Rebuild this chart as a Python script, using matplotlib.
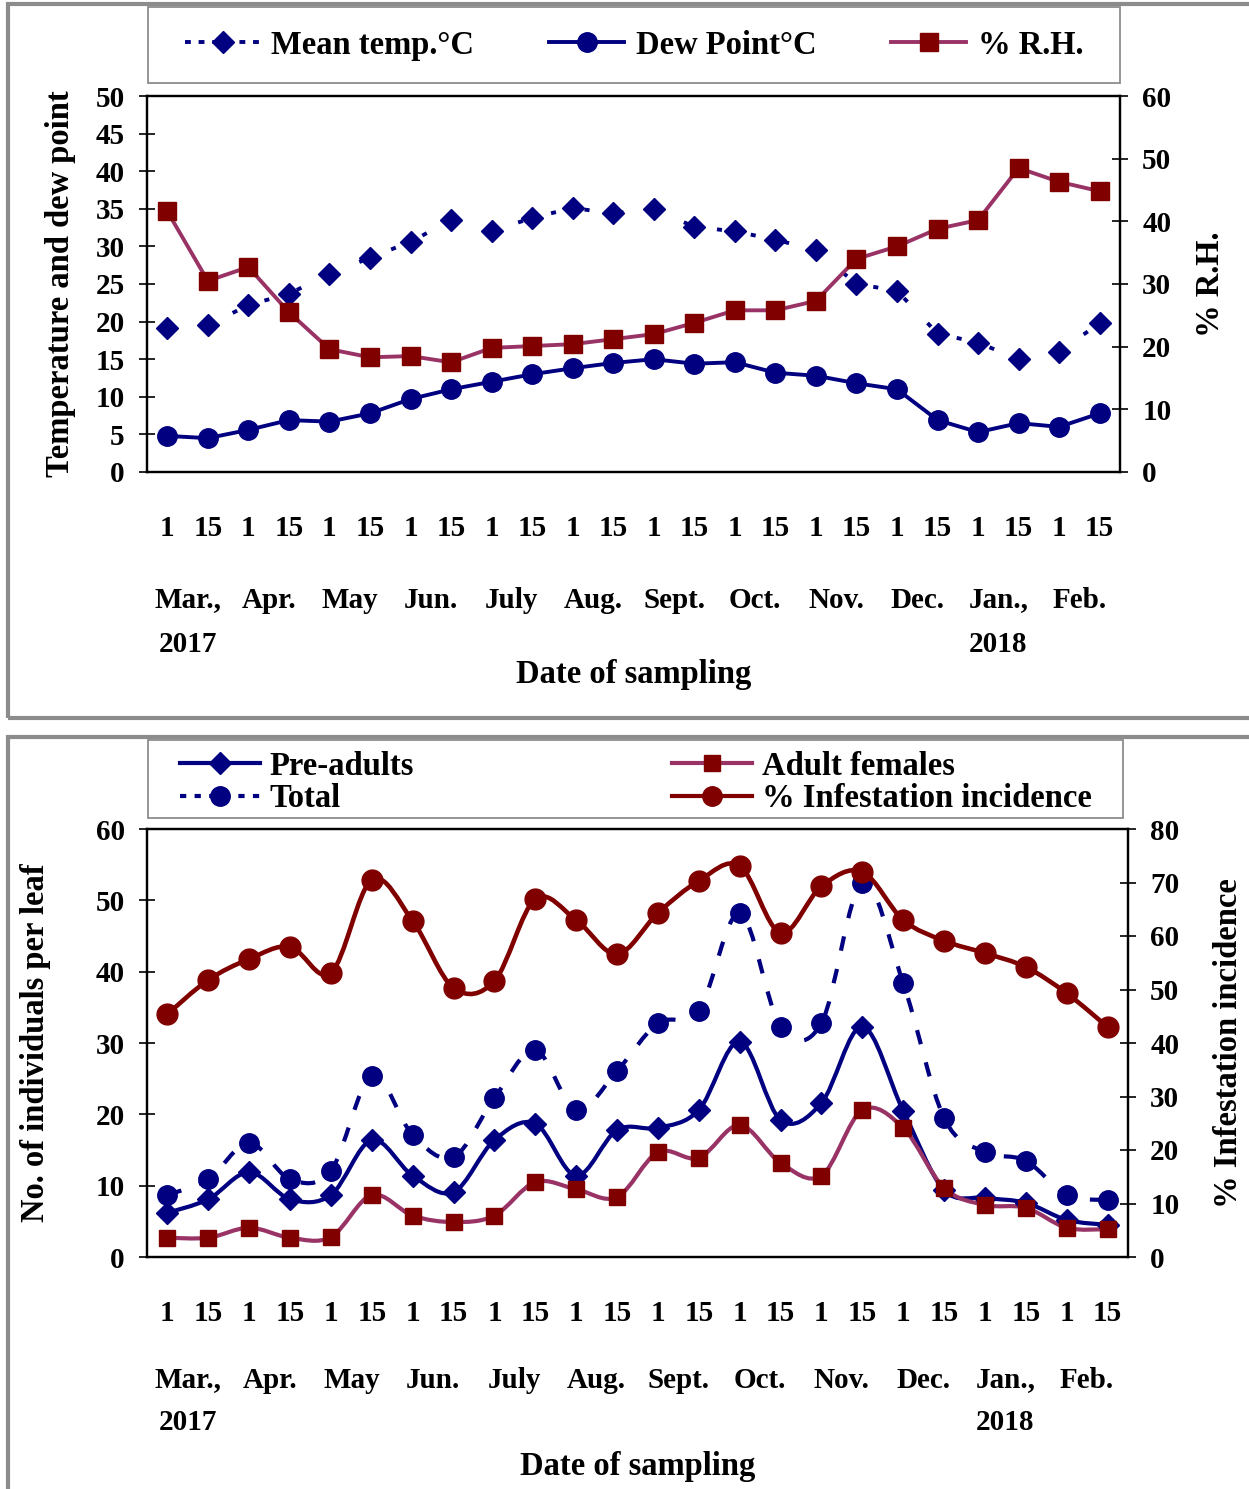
import numpy as np
import matplotlib
matplotlib.use('Agg')
import matplotlib.pyplot as plt
from matplotlib.path import Path
from matplotlib.patches import PathPatch, Rectangle
from matplotlib.lines import Line2D

plt.rcParams['font.family'] = 'Liberation Serif'
plt.rcParams['font.weight'] = 'bold'
plt.rcParams['axes.labelweight'] = 'bold'

# sampling dates: 1st and 15th of each month, Mar. 2017 - Feb. 2018
day_labels = ['1', '15'] * 12
months = ['Mar.,', 'Apr.', 'May', 'Jun.', 'July', 'Aug.', 'Sept.', 'Oct.',
          'Nov.', 'Dec.', 'Jan.,', 'Feb.']

# weather panel
mean_temp = [19.1, 19.5, 22.2, 23.7, 26.3, 28.5, 30.6, 33.5, 32.0, 33.8, 35.1, 34.4,
             35.0, 32.6, 32.0, 30.9, 29.5, 25.0, 24.1, 18.4, 17.2, 15.0, 16.0, 19.8]
dew_point = [4.8, 4.5, 5.6, 6.9, 6.7, 7.8, 9.7, 11.0, 12.0, 13.0, 13.8, 14.5,
             15.0, 14.4, 14.6, 13.2, 12.8, 11.8, 11.0, 6.9, 5.3, 6.5, 6.0, 7.8]
rel_hum = [41.6, 30.5, 32.7, 25.5, 19.6, 18.3, 18.5, 17.5, 19.8, 20.1, 20.4, 21.2,
           22.0, 23.8, 25.8, 25.8, 27.3, 34.0, 36.0, 38.8, 40.2, 48.5, 46.3, 44.8]

# mite panel
pre_adults = [6.2, 8.1, 11.9, 8.1, 8.7, 16.4, 11.4, 9.1, 16.4, 18.7, 11.4, 17.8,
              18.1, 20.6, 30.2, 19.2, 21.6, 32.3, 20.5, 9.4, 8.3, 7.6, 5.2, 4.5]
adult_females = [2.7, 2.7, 4.1, 2.7, 2.8, 8.7, 5.8, 4.9, 5.8, 10.5, 9.5, 8.4,
                 14.7, 13.9, 18.5, 13.2, 11.4, 20.6, 18.1, 9.7, 7.3, 6.9, 4.1, 3.9]
total = [8.7, 10.9, 16.0, 10.9, 12.1, 25.4, 17.1, 14.0, 22.3, 29.0, 20.6, 26.1,
         32.8, 34.5, 48.2, 32.3, 32.8, 52.5, 38.4, 19.5, 14.7, 13.5, 8.7, 8.0]
infestation = [45.4, 51.8, 55.7, 58.0, 53.1, 70.5, 62.8, 50.3, 51.6, 66.9, 63.0, 56.6,
               64.3, 70.3, 73.1, 60.6, 69.3, 72.0, 63.0, 59.1, 56.8, 54.2, 49.3, 43.0]

NAVY = '#000080'
MAROON = '#800000'
PLUM = '#993366'
W, H = 1249, 1489
x = np.arange(len(day_labels))


def px_rect(x0, y0, x1, y1):
    # rectangle given in image pixels (y from top) -> figure fraction
    return (x0 / W, 1 - y1 / H), (x1 - x0) / W, (y1 - y0) / H


def smooth(ax, xs, ys, **kw):
    # Excel-like smoothed line (Catmull-Rom as cubic Bezier)
    pts = np.column_stack([xs, ys]).astype(float)
    n = len(pts)
    verts, codes = [pts[0]], [Path.MOVETO]
    for i in range(n - 1):
        p0, p1 = pts[max(i - 1, 0)], pts[i]
        p2, p3 = pts[i + 1], pts[min(i + 2, n - 1)]
        verts += [p1 + (p2 - p0) / 6, p2 - (p3 - p1) / 6, p2]
        codes += [Path.CURVE4] * 3
    ax.add_patch(PathPatch(Path(verts, codes), facecolor='none', **kw))


def style_axes(ax, ax2, bottom_offsets, xlabel):
    ax.set_xlim(-0.5, len(x) - 0.5)
    ax.set_xticks(x)
    ax.set_xticklabels(day_labels)
    ax.tick_params(axis='x', length=0, pad=31, labelsize=21)
    ax.tick_params(axis='y', direction='inout', length=12, width=1.2, pad=10, labelsize=21)
    ax2.tick_params(axis='y', direction='inout', length=12, width=1.2, pad=10, labelsize=21)
    for a in (ax, ax2):
        for s in a.spines.values():
            s.set_linewidth(1.6)
    m_off, y_off, l_off = bottom_offsets
    for k, m in enumerate(months):
        ax.annotate(m, xy=(2 * k + 0.5, 0), xycoords=('data', 'axes fraction'),
                    xytext=(0, -m_off), textcoords='offset pixels',
                    ha='center', va='center', fontsize=21)
    ax.annotate('2017', xy=(0.5, 0), xycoords=('data', 'axes fraction'),
                xytext=(0, -y_off), textcoords='offset pixels',
                ha='center', va='center', fontsize=21)
    ax.annotate('2018', xy=(20.5, 0), xycoords=('data', 'axes fraction'),
                xytext=(0, -y_off), textcoords='offset pixels',
                ha='center', va='center', fontsize=21)
    ax.annotate(xlabel, xy=(0.5, 0), xycoords='axes fraction',
                xytext=(0, -l_off), textcoords='offset pixels',
                ha='center', va='center', fontsize=23.5)


fig = plt.figure(figsize=(W / 100, H / 100), dpi=100)

# panel frames and legend boxes
for (x0, y0, x1, y1), lw in [((8, 4, 1262, 718), 3), ((8, 737, 1262, 1500), 3),
                             ((148, 7, 1120, 83), 1.3), ((148, 740, 1123, 818), 1.3)]:
    xy, w, h = px_rect(x0, y0, x1, y1)
    fig.add_artist(Rectangle(xy, w, h, transform=fig.transFigure, fill=False,
                             edgecolor='#8c8c8c', linewidth=lw))

# ---- top: weather ----
ax1 = fig.add_axes([147 / W, 1 - 472 / H, 973 / W, 376 / H])
ax1b = ax1.twinx()
ax1.plot(x, mean_temp, color=NAVY, lw=2.8, linestyle=(0, (1.3, 7.5)),
         marker='D', ms=11, mec=NAVY, mfc=NAVY)
ax1.plot(x, dew_point, color=NAVY, lw=2.8, marker='o', ms=14, mec=NAVY, mfc=NAVY)
ax1b.plot(x, rel_hum, color=PLUM, lw=2.8, marker='s', ms=12.5, mec=MAROON, mfc=MAROON)
ax1.set_ylim(0, 50)
ax1.set_yticks(range(0, 51, 5))
ax1b.set_ylim(0, 60)
ax1b.set_yticks(range(0, 61, 10))
ax1.set_ylabel('Temperature and dew point', fontsize=23.5, labelpad=14)
ax1b.set_ylabel('% R.H.', fontsize=23.5, rotation=90, labelpad=17)
style_axes(ax1, ax1b, (128, 173, 203), 'Date of sampling')

h_top = [Line2D([], [], color=NAVY, lw=2.8, linestyle=(0, (1.5, 2)), marker='D', ms=11),
         Line2D([], [], color=NAVY, lw=2.8, marker='o', ms=14),
         Line2D([], [], color=PLUM, lw=2.8, marker='s', ms=12.5, mec=MAROON, mfc=MAROON)]
ax1.legend(h_top, ['Mean temp.°C', 'Dew Point°C', '% R.H.'], ncol=3, mode='expand',
           loc='center', bbox_to_anchor=(38 / 973, 1.1356 - 0.05, 898 / 973, 0.1),
           frameon=False, borderpad=0, borderaxespad=0, fontsize=23.5,
           handlelength=2.3, handletextpad=0.35)

# ---- bottom: mites ----
ax2 = fig.add_axes([147 / W, 1 - 1257 / H, 981 / W, 428 / H])
ax2b = ax2.twinx()
smooth(ax2, x, total, edgecolor=NAVY, lw=3, linestyle=(0, (3.5, 4.5)))
smooth(ax2, x, pre_adults, edgecolor=NAVY, lw=3)
smooth(ax2, x, adult_females, edgecolor=PLUM, lw=3)
ax2.plot(x, total, linestyle='none', marker='o', ms=14, color=NAVY)
ax2.plot(x, pre_adults, linestyle='none', marker='D', ms=11, color=NAVY)
ax2.plot(x, adult_females, linestyle='none', marker='s', ms=12, color=MAROON)
smooth(ax2b, x, infestation, edgecolor=MAROON, lw=3.3)
ax2b.plot(x, infestation, linestyle='none', marker='o', ms=15, color=MAROON)
ax2.set_ylim(0, 60)
ax2.set_yticks(range(0, 61, 10))
ax2b.set_ylim(0, 80)
ax2b.set_yticks(range(0, 81, 10))
ax2.set_ylabel('No. of individuals per leaf', fontsize=23.5, labelpad=32)
ax2b.set_ylabel('% Infestation incidence', fontsize=23.5, rotation=90, labelpad=24)
style_axes(ax2, ax2b, (123, 165, 210), 'Date of sampling')

h_bot = [Line2D([], [], color=NAVY, lw=3, marker='D', ms=11),
         Line2D([], [], color=NAVY, lw=3, linestyle=(0, (1.5, 2)), marker='o', ms=14),
         Line2D([], [], color=PLUM, lw=3, marker='s', ms=12, mec=MAROON, mfc=MAROON),
         Line2D([], [], color=MAROON, lw=3, marker='o', ms=14)]
ax2.legend(h_bot, ['Pre-adults', 'Total', 'Adult females', '% Infestation incidence'],
           ncol=2, mode='expand', loc='center',
           bbox_to_anchor=(33 / 981, 1.1086 - 0.05, 912 / 981, 0.1),
           frameon=False, borderpad=0, borderaxespad=0, fontsize=23.5,
           handlelength=2.45, handletextpad=0.3, labelspacing=0.05)

fig.savefig('out.png', dpi=100)
